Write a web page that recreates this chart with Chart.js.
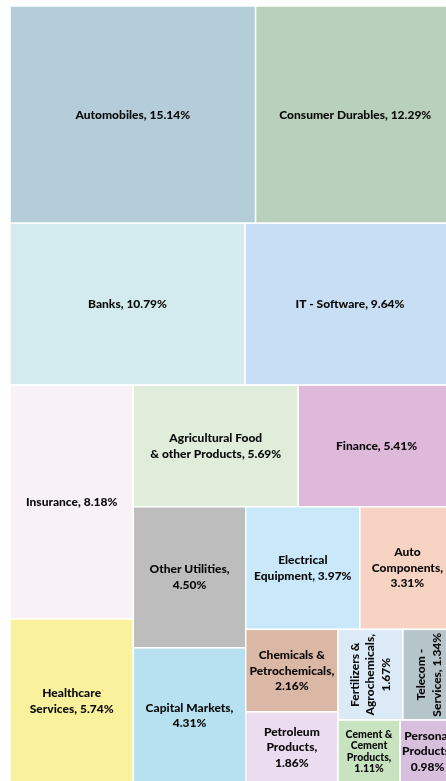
<!DOCTYPE html>
<html>
<head>
<meta charset="utf-8">
<script src="https://cdn.jsdelivr.net/npm/chart.js@4.4.1/dist/chart.umd.min.js"></script>
<style>
  html, body { margin: 0; padding: 0; background: #fff; width: 446px; height: 781px; overflow: hidden; }
  #wrap { position: relative; width: 460px; height: 786px; }
</style>
</head>
<body>
<div id="wrap"><canvas id="sectorTreemap"></canvas></div>
<script>
// sector names (line breaks as in the reference), weights in % and tile colours
const sectors = [
  ['Automobiles'], ['Consumer Durables'], ['Banks'], ['IT - Software'],
  ['Insurance'], ['Healthcare', 'Services'], ['Agricultural Food', '& other Products'], ['Finance'],
  ['Other Utilities'], ['Capital Markets'], ['Electrical', 'Equipment'], ['Auto', 'Components'],
  ['Chemicals &', 'Petrochemicals'], ['Petroleum', 'Products'], ['Fertilizers &', 'Agrochemicals'],
  ['Telecom -', 'Services'], ['Cement &', 'Cement', 'Products'], ['Personal', 'Products']
]
const weights = [15.14, 12.29, 10.79, 9.64, 8.18, 5.74, 5.69, 5.41, 4.50, 4.31, 3.97, 3.31, 2.16, 1.86, 1.67, 1.34, 1.11, 0.98]
const colors = [
  '#b5cdd8', '#b9d0bc', '#d3ebee', '#c8def4', '#f8f2f7', '#faf19c', '#e0edda', '#dfb9da',
  '#bdbdbd', '#b7e1f1', '#c9e9fa', '#f6d3c2', '#dbb7a5', '#ebddef', '#dceaf8', '#b5c5c9',
  '#c8e3bf', '#d8bfdd'
]

// strips of two tiles laid along the shorter side of what is left
function layoutTiles(values, pxPerX, pxPerY) {
  const tiles = []
  let r = { x: 0, y: 0, w: 100, h: 100 }
  let remaining = values.reduce((a, b) => a + b, 0)
  for (let i = 0; i < values.length; i += 2) {
    const group = values.slice(i, i + 2)
    const sum = group.reduce((a, b) => a + b, 0)
    const wide = r.w * pxPerX >= r.h * pxPerY
    let off = 0
    if (i + 2 >= values.length) {
      group.forEach(v => {
        if (wide) { const w = r.w * v / sum; tiles.push({ x: r.x + off, y: r.y, w: w, h: r.h }); off += w }
        else { const h = r.h * v / sum; tiles.push({ x: r.x, y: r.y + off, w: r.w, h: h }); off += h }
      })
    } else if (wide) {
      const w = r.w * sum / remaining
      group.forEach(v => { const h = r.h * v / sum; tiles.push({ x: r.x, y: r.y + off, w: w, h: h }); off += h })
      r = { x: r.x + w, y: r.y, w: r.w - w, h: r.h }
    } else {
      const h = r.h * sum / remaining
      group.forEach(v => { const w = r.w * v / sum; tiles.push({ x: r.x + off, y: r.y, w: w, h: h }); off += w })
      r = { x: r.x, y: r.y + h, w: r.w, h: r.h - h }
    }
    remaining -= sum
  }
  return tiles
}

function labelLines(ctx, name, value, maxW) {
  const lines = name.slice()
  const last = lines[lines.length - 1]
  const val = value.toFixed(2) + '%'
  if (ctx.measureText(last + ', ' + val).width <= maxW) lines[lines.length - 1] = last + ', ' + val
  else { lines[lines.length - 1] = last + ','; lines.push(val) }
  return lines
}

const treemapPlugin = {
  id: 'treemapTiles',
  afterDatasetsDraw(chart) {
    const ctx = chart.ctx
    const xs = chart.scales.x, ys = chart.scales.y
    const tiles = layoutTiles(weights, xs.width / 100, ys.height / 100)
    tiles.forEach((t, i) => {
      const x0 = xs.getPixelForValue(t.x), x1 = xs.getPixelForValue(t.x + t.w)
      const y0 = ys.getPixelForValue(t.y), y1 = ys.getPixelForValue(t.y + t.h)
      const w = x1 - x0, h = y1 - y0
      ctx.save()
      ctx.fillStyle = colors[i]
      ctx.fillRect(x0, y0, w, h)
      ctx.strokeStyle = '#ffffff'
      ctx.lineWidth = 1.5
      ctx.strokeRect(x0, y0, w, h)

      const rotate = w < 70 && h > w * 1.3
      const along = rotate ? h : w, across = rotate ? w : h
      let size = 12, lh = 15.5
      ctx.font = '900 ' + size + 'px Lato'
      let lines = labelLines(ctx, sectors[i], weights[i], along - 5)
      if (lines.length * lh > across - 6) {
        size = 10.5; lh = 11.5
        ctx.font = '900 ' + size + 'px Lato'
        lines = labelLines(ctx, sectors[i], weights[i], along - 5)
      }
      ctx.fillStyle = '#0a0a0a'
      ctx.textAlign = 'center'
      ctx.textBaseline = 'middle'
      ctx.translate(x0 + w / 2, y0 + h / 2)
      if (rotate) ctx.rotate(-Math.PI / 2)
      lines.forEach((line, k) => {
        ctx.fillText(line, 0, (k - (lines.length - 1) / 2) * lh)
      })
      ctx.restore()
    })
  }
}

const treemapChart = new Chart(document.getElementById('sectorTreemap'), {
  type: 'scatter',
  data: { datasets: [{ data: [], pointRadius: 0 }] },
  options: {
    responsive: true,
    maintainAspectRatio: false,
    animation: false,
    layout: { padding: { left: 10, top: 6, right: 5, bottom: 3 } },
    scales: {
      x: { type: 'linear', min: 0, max: 100, display: false },
      y: { type: 'linear', min: 0, max: 100, reverse: true, display: false }
    },
    plugins: { legend: { display: false }, tooltip: { enabled: false } }
  },
  plugins: [treemapPlugin]
})
</script>
</body>
</html>
